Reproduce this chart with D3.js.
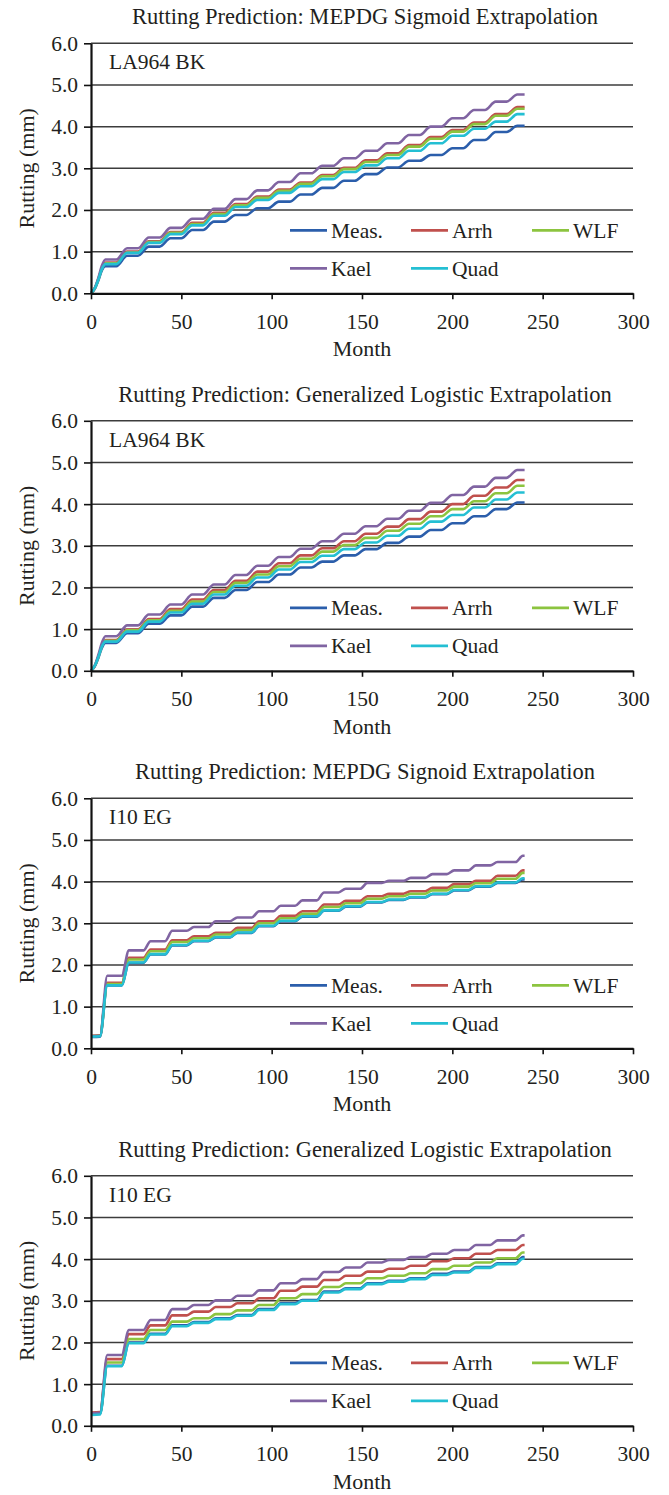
<!DOCTYPE html>
<html>
<head>
<meta charset="utf-8">
<script src="https://cdn.jsdelivr.net/npm/d3@7"></script>
<style>
  body { margin: 0; background: #fff; }
  svg text { font-family: "Liberation Serif", "Times New Roman", serif; fill: #231f20; }
</style>
</head>
<body>
<svg id="main_chart" width="669" height="1495"></svg>
<script>
// series shown in every panel, in legend / draw order
const seriesNames = ["Meas.", "Arrh", "WLF", "Kael", "Quad"];
const seriesColors = ["#2b5eab", "#c0504d", "#8cc43f", "#8064a2", "#24bfd3"];

const xTicks = [0, 50, 100, 150, 200, 250, 300];
const yTicks = [0, 1, 2, 3, 4, 5, 6];

// month positions of the points (start of curve, then each year's flat part)
const laStartMonths = [0, 2, 4, 6];
const laFlatStart = [8, 20, 32, 44, 56, 68, 80, 92, 104, 116, 128, 140, 152, 164, 176, 188, 200, 212, 224, 236];
const laFlatEnd   = [14, 26, 38, 50, 62, 74, 86, 98, 110, 122, 134, 146, 158, 170, 182, 194, 206, 218, 230, 240];
const i10StartMonths = [0, 5];
const i10FlatStart = [9, 21, 33, 45, 57, 69, 81, 93, 105, 117, 129, 141, 153, 165, 177, 189, 201, 213, 225, 239];
const i10FlatEnd   = [17, 29, 41, 53, 65, 77, 89, 101, 113, 125, 137, 149, 161, 173, 185, 197, 209, 221, 235, 240];

// panel 1: LA964 BK, MEPDG sigmoid
const p1Start = [
  [0, 0.10, 0.30, 0.55],
  [0, 0.11, 0.33, 0.60],
  [0, 0.11, 0.33, 0.59],
  [0, 0.12, 0.36, 0.66],
  [0, 0.11, 0.32, 0.58]
];
const p1Meas = [0.65, 0.90, 1.12, 1.32, 1.52, 1.72, 1.88, 2.04, 2.20, 2.37, 2.53, 2.70, 2.86, 3.02, 3.18, 3.32, 3.48, 3.68, 3.87, 4.02];
const p1Arrh = [0.74, 1.00, 1.25, 1.47, 1.69, 1.93, 2.14, 2.32, 2.49, 2.66, 2.84, 3.01, 3.19, 3.36, 3.56, 3.75, 3.92, 4.10, 4.30, 4.47];
const p1WLF  = [0.72, 0.98, 1.23, 1.45, 1.66, 1.90, 2.11, 2.29, 2.46, 2.63, 2.81, 2.98, 3.15, 3.32, 3.52, 3.71, 3.88, 4.06, 4.26, 4.43];
const p1Kael = [0.81, 1.08, 1.34, 1.57, 1.79, 2.03, 2.26, 2.47, 2.67, 2.88, 3.06, 3.24, 3.42, 3.60, 3.80, 4.00, 4.20, 4.40, 4.60, 4.77];
const p1Quad = [0.70, 0.97, 1.21, 1.42, 1.63, 1.86, 2.07, 2.24, 2.41, 2.57, 2.74, 2.91, 3.07, 3.24, 3.42, 3.60, 3.78, 3.95, 4.12, 4.30];

// panel 2: LA964 BK, generalized logistic
const p2Start = [
  [0, 0.10, 0.30, 0.55],
  [0, 0.11, 0.33, 0.60],
  [0, 0.11, 0.33, 0.59],
  [0, 0.12, 0.37, 0.67],
  [0, 0.11, 0.32, 0.58]
];
const p2Meas = [0.67, 0.90, 1.13, 1.33, 1.54, 1.75, 1.94, 2.13, 2.31, 2.48, 2.62, 2.77, 2.92, 3.07, 3.22, 3.38, 3.54, 3.71, 3.88, 4.04];
const p2Arrh = [0.74, 0.99, 1.24, 1.48, 1.71, 1.94, 2.16, 2.38, 2.58, 2.77, 2.94, 3.11, 3.29, 3.46, 3.64, 3.82, 4.00, 4.20, 4.40, 4.58];
const p2WLF  = [0.72, 0.97, 1.21, 1.44, 1.66, 1.89, 2.11, 2.31, 2.51, 2.69, 2.86, 3.02, 3.19, 3.36, 3.53, 3.71, 3.88, 4.07, 4.26, 4.44];
const p2Kael = [0.83, 1.09, 1.35, 1.59, 1.83, 2.07, 2.30, 2.52, 2.73, 2.93, 3.11, 3.29, 3.47, 3.65, 3.84, 4.03, 4.22, 4.42, 4.63, 4.82];
const p2Quad = [0.70, 0.94, 1.18, 1.40, 1.61, 1.83, 2.04, 2.24, 2.43, 2.61, 2.76, 2.92, 3.08, 3.24, 3.41, 3.58, 3.74, 3.92, 4.11, 4.28];

// panel 3: I10 EG, MEPDG sigmoid
const p3Start = [[0.27, 0.28], [0.30, 0.31], [0.29, 0.30], [0.29, 0.30], [0.28, 0.29]];
const p3Meas = [1.51, 2.05, 2.25, 2.47, 2.57, 2.66, 2.77, 2.93, 3.05, 3.16, 3.30, 3.40, 3.50, 3.56, 3.62, 3.70, 3.79, 3.88, 3.97, 4.05];
const p3Arrh = [1.57, 2.17, 2.37, 2.59, 2.69, 2.77, 2.89, 3.05, 3.18, 3.29, 3.45, 3.54, 3.65, 3.71, 3.77, 3.85, 3.94, 4.02, 4.14, 4.27];
const p3WLF  = [1.54, 2.13, 2.33, 2.55, 2.64, 2.73, 2.84, 3.00, 3.12, 3.23, 3.39, 3.48, 3.59, 3.65, 3.71, 3.79, 3.88, 3.96, 4.07, 4.21];
const p3Kael = [1.74, 2.35, 2.57, 2.82, 2.91, 3.05, 3.14, 3.29, 3.42, 3.55, 3.74, 3.83, 3.97, 4.02, 4.09, 4.18, 4.27, 4.39, 4.47, 4.62];
const p3Quad = [1.51, 2.06, 2.26, 2.48, 2.58, 2.67, 2.78, 2.94, 3.06, 3.17, 3.31, 3.41, 3.51, 3.57, 3.63, 3.71, 3.80, 3.89, 3.98, 4.08];

// panel 4: I10 EG, generalized logistic
const p4Start = [[0.28, 0.29], [0.32, 0.33], [0.29, 0.30], [0.30, 0.31], [0.26, 0.27]];
const p4Meas = [1.44, 2.00, 2.21, 2.41, 2.49, 2.58, 2.66, 2.80, 2.94, 3.02, 3.22, 3.30, 3.42, 3.48, 3.54, 3.65, 3.70, 3.81, 3.90, 4.05];
const p4Arrh = [1.60, 2.20, 2.41, 2.65, 2.74, 2.85, 2.94, 3.06, 3.24, 3.34, 3.50, 3.60, 3.70, 3.77, 3.84, 3.95, 4.02, 4.13, 4.22, 4.34];
const p4WLF  = [1.52, 2.08, 2.30, 2.50, 2.58, 2.68, 2.77, 2.90, 3.06, 3.16, 3.33, 3.42, 3.54, 3.60, 3.66, 3.76, 3.84, 3.92, 4.02, 4.16];
const p4Kael = [1.70, 2.30, 2.54, 2.80, 2.90, 3.01, 3.12, 3.25, 3.42, 3.52, 3.69, 3.80, 3.92, 3.98, 4.05, 4.13, 4.22, 4.34, 4.45, 4.57];
const p4Quad = [1.43, 1.98, 2.19, 2.39, 2.47, 2.56, 2.64, 2.78, 2.92, 3.00, 3.20, 3.28, 3.40, 3.46, 3.52, 3.62, 3.68, 3.79, 3.88, 4.01];

const panels = [
  { title: "Rutting Prediction: MEPDG Sigmoid Extrapolation", site: "LA964 BK",
    startMonths: laStartMonths, flatStart: laFlatStart, flatEnd: laFlatEnd,
    start: p1Start, levels: [p1Meas, p1Arrh, p1WLF, p1Kael, p1Quad] },
  { title: "Rutting Prediction: Generalized Logistic Extrapolation", site: "LA964 BK",
    startMonths: laStartMonths, flatStart: laFlatStart, flatEnd: laFlatEnd,
    start: p2Start, levels: [p2Meas, p2Arrh, p2WLF, p2Kael, p2Quad] },
  { title: "Rutting Prediction: MEPDG Signoid Extrapolation", site: "I10 EG",
    startMonths: i10StartMonths, flatStart: i10FlatStart, flatEnd: i10FlatEnd,
    start: p3Start, levels: [p3Meas, p3Arrh, p3WLF, p3Kael, p3Quad] },
  { title: "Rutting Prediction: Generalized Logistic Extrapolation", site: "I10 EG",
    startMonths: i10StartMonths, flatStart: i10FlatStart, flatEnd: i10FlatEnd,
    start: p4Start, levels: [p4Meas, p4Arrh, p4WLF, p4Kael, p4Quad] }
];

function buildPoints(p, s) {
  let pts = p.startMonths.map((m, i) => [m, p.start[s][i]]);
  p.levels[s].forEach((v, k) => {
    pts.push([p.flatStart[k], v]);
    pts.push([p.flatEnd[k], v]);
  });
  return pts;
}

let svg = d3.select("#main_chart");
svg.append("rect").attr("width", 669).attr("height", 1495).attr("fill", "#fff");

const plotLeft = 91, plotRight = 633, plotH = 250, firstTop = 43.3, panelStep = 377.5;

panels.forEach(function(p, pi) {
  let top = firstTop + pi * panelStep;
  let chart = svg.append("g");

  let xScale = d3.scaleLinear().domain([0, 300]).range([plotLeft, plotRight]);
  let yScale = d3.scaleLinear().domain([0, 6]).range([top + plotH, top]);

  // gridlines
  chart.append("g")
    .selectAll("line")
    .data(yTicks.filter(d => d > 0))
    .enter().append("line")
    .attr("x1", plotLeft).attr("x2", plotRight)
    .attr("y1", d => yScale(d)).attr("y2", d => yScale(d))
    .attr("stroke", "#3c3c3c")
    .attr("stroke-width", 1.5);

  // title + site label
  chart.append("text")
    .attr("x", 365)
    .attr("y", top - 19)
    .attr("text-anchor", "middle")
    .style("font-size", "22.5px")
    .text(p.title);

  chart.append("text")
    .attr("x", plotLeft + 18)
    .attr("y", top + 26)
    .style("font-size", "21.5px")
    .text(p.site);

  // series lines
  let line = d3.line()
    .x(d => xScale(d[0]))
    .y(d => yScale(d[1]))
    .curve(d3.curveMonotoneX);

  seriesNames.forEach(function(name, s) {
    chart.append("path")
      .datum(buildPoints(p, s))
      .attr("fill", "none")
      .attr("stroke", seriesColors[s])
      .attr("stroke-width", 2.6)
      .attr("stroke-linejoin", "round")
      .attr("d", line);
  });

  // axes
  let yAxis = chart.append("g")
    .attr("transform", "translate(" + plotLeft + ",0)")
    .call(d3.axisLeft(yScale)
      .tickValues(yTicks)
      .tickFormat(d3.format(".1f"))
      .tickSize(7)
      .tickSizeOuter(0)
      .tickPadding(6));
  let xAxis = chart.append("g")
    .attr("transform", "translate(0," + (top + plotH) + ")")
    .call(d3.axisBottom(xScale)
      .tickValues(xTicks)
      .tickSize(6)
      .tickSizeOuter(0)
      .tickPadding(14));

  [yAxis, xAxis].forEach(function(ax) {
    ax.select(".domain").attr("stroke", "#111").attr("stroke-width", 2.2);
    ax.selectAll(".tick line").attr("stroke", "#111").attr("stroke-width", 1.6);
    ax.selectAll(".tick text")
      .style("font-family", "'Liberation Serif', serif")
      .style("font-size", "21.5px")
      .attr("fill", "#231f20");
  });

  // axis titles
  chart.append("text")
    .attr("x", (plotLeft + plotRight) / 2)
    .attr("y", top + plotH + 63)
    .attr("text-anchor", "middle")
    .style("font-size", "22px")
    .text("Month");

  chart.append("text")
    .attr("transform", "translate(34," + (top + plotH / 2) + ") rotate(-90)")
    .attr("text-anchor", "middle")
    .style("font-size", "22px")
    .text("Rutting (mm)");

  // legend
  let legend = chart.append("g")
    .attr("transform", "translate(290," + (top + 187) + ")");
  let items = legend.selectAll("g")
    .data(seriesNames)
    .enter().append("g")
    .attr("transform", (d, i) => "translate(" + (i % 3) * 121 + "," + Math.floor(i / 3) * 38 + ")");
  items.append("line")
    .attr("x1", 0).attr("x2", 37)
    .attr("y1", 0).attr("y2", 0)
    .attr("stroke", (d, i) => seriesColors[i])
    .attr("stroke-width", 2.8);
  items.append("text")
    .attr("x", 41)
    .attr("y", 7.5)
    .style("font-size", "21.5px")
    .text(d => d);
});
</script>
</body>
</html>
